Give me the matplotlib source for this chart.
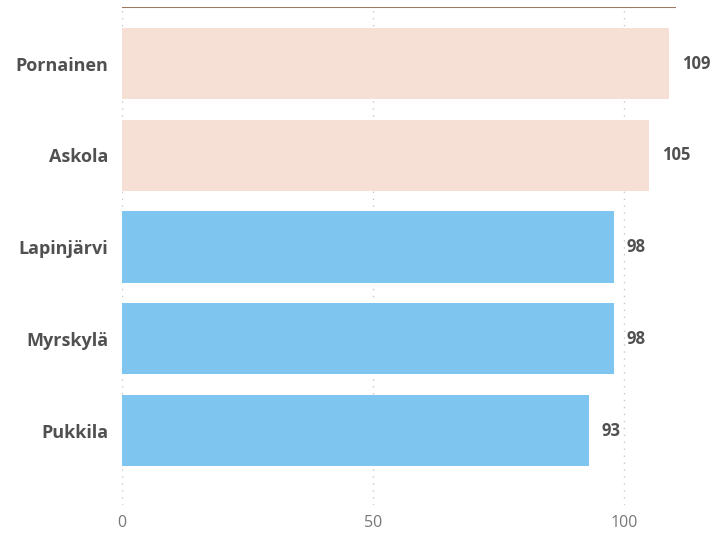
import matplotlib.pyplot as plt

# kunnat ja arvot
kunnat = ['Pornainen', 'Askola', 'Lapinjärvi', 'Myrskylä', 'Pukkila']
arvot = [109, 105, 98, 98, 93]
varit = ['#F6E0D6', '#F6E0D6', '#7EC6F0', '#7EC6F0', '#7EC6F0']
x_ticks = [0, 50, 100]

plt.rcParams['font.family'] = ['Open Sans', 'DejaVu Sans']

fig = plt.figure(figsize=(7.16, 5.34), dpi=100)
ax = fig.add_axes([122 / 716, 1 - 505 / 534, (676 - 122) / 716, 498 / 534])

y = list(range(len(kunnat)))
ax.barh(y, arvot, height=0.775, color=varit, zorder=2)

# arvot palkkien perään
for yi, v in zip(y, arvot):
    ax.annotate(str(v), xy=(v, yi), xytext=(13, 0), textcoords='offset pixels',
                ha='left', va='center', fontsize=12, fontweight='bold',
                color='#505050', annotation_clip=False)

ax.set_xlim(0, 110.4)
ax.set_ylim(4.812, -0.616)
ax.set_yticks(y)
ax.set_yticklabels(kunnat, fontsize=13, fontweight='bold', color='#505050')
ax.set_xticks(x_ticks)
ax.set_xticklabels([str(t) for t in x_ticks], fontsize=11.5, color='#777777')
ax.tick_params(axis='both', length=0)
ax.tick_params(axis='x', pad=7)
ax.tick_params(axis='y', pad=10)

for s in ax.spines.values():
    s.set_visible(False)
ax.grid(axis='x', color='#C8C8C8', linestyle=(0, (1, 4)), linewidth=1, zorder=0)
ax.axhline(-0.616, color='#A07860', linewidth=1.5, zorder=3)

fig.savefig('out.png', dpi=100)
